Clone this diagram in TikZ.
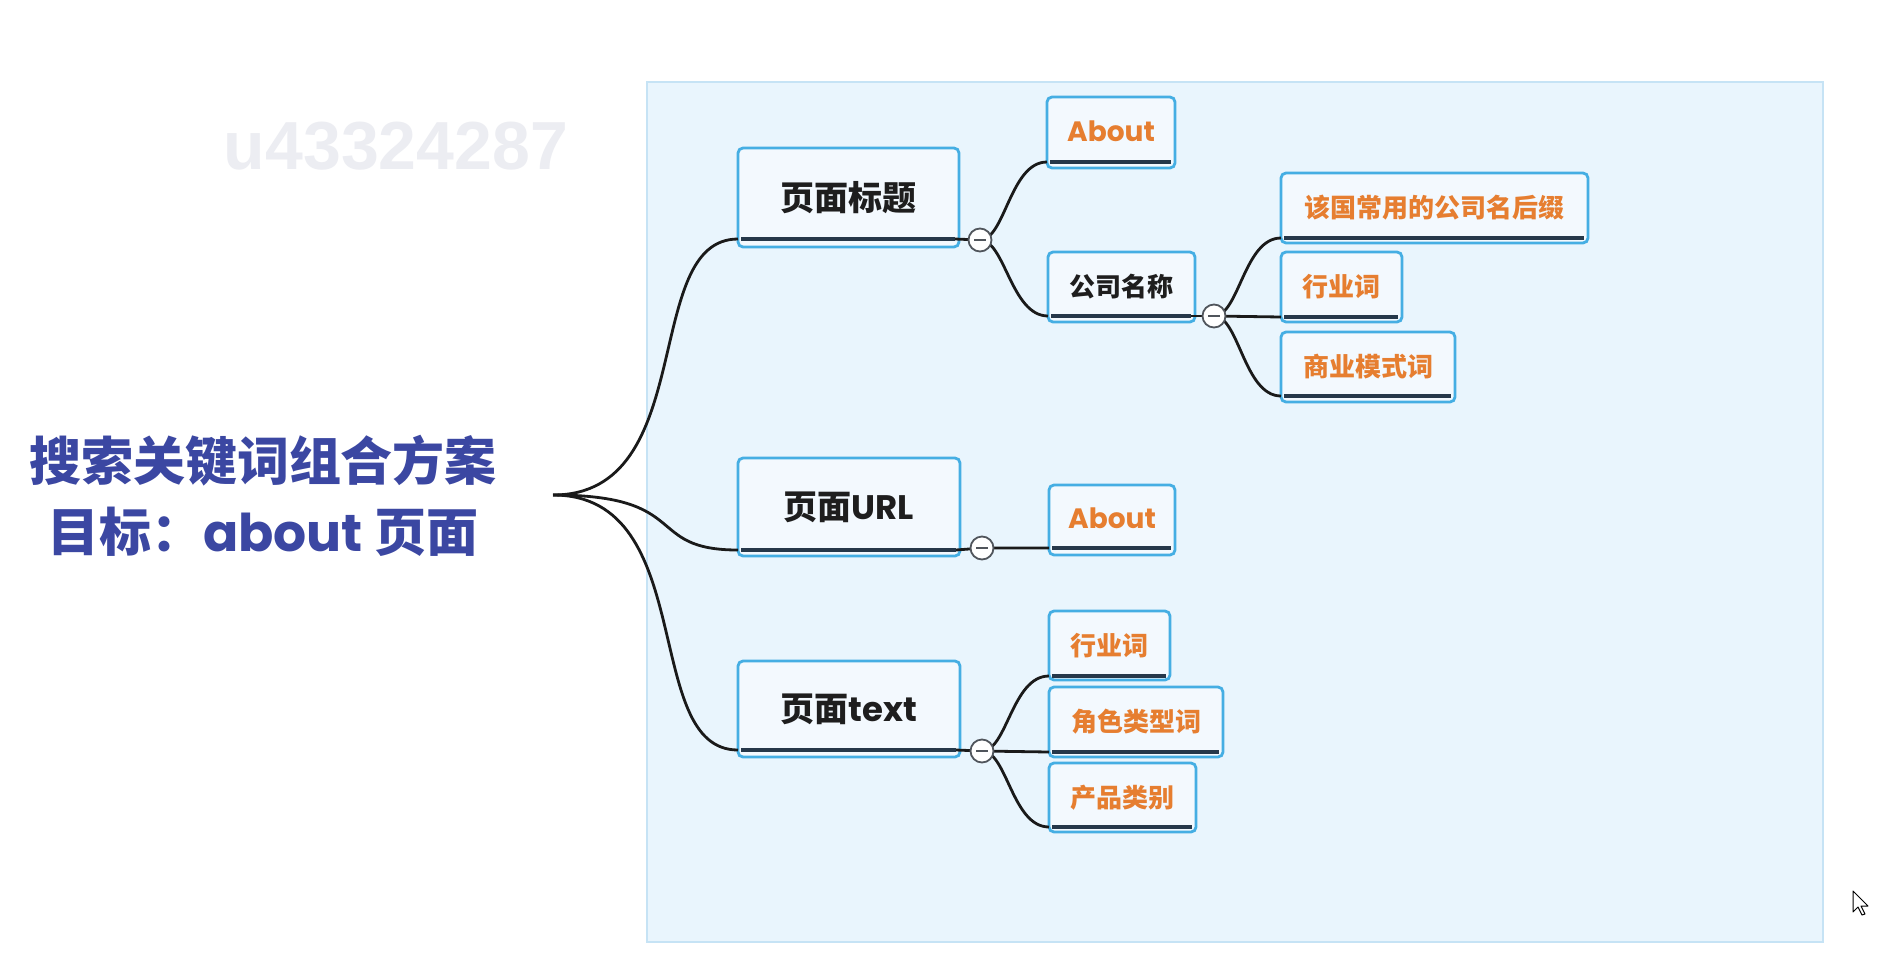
\documentclass[tikz,border=0pt]{standalone}
\usepackage{fontspec}
\setmainfont{Noto Sans CJK SC}
\newfontfamily\lat{Poppins}
\newfontfamily\wmfont{Liberation Sans}
\definecolor{panelfill}{HTML}{E9F5FD}
\definecolor{panelline}{HTML}{C6E3F5}
\definecolor{boxblue}{HTML}{45AEE3}
\definecolor{boxfill}{HTML}{F3F9FE}
\definecolor{ulinecol}{HTML}{26384A}
\definecolor{orangetext}{HTML}{E67E30}
\definecolor{darktext}{HTML}{1E1E1E}
\definecolor{rootblue}{HTML}{3B47A2}
\definecolor{conncol}{HTML}{1A1A1A}
\definecolor{knobcol}{HTML}{50555C}
\definecolor{wmgray}{HTML}{ECEDF2}
\tikzset{
  mmbox/.style={draw=boxblue, line width=2.8pt, rounded corners=5pt, fill=boxfill, inner sep=0pt, text=darktext},
  l1box/.style={mmbox, font=\fontsize{34}{40}\selectfont\bfseries},
  l2dark/.style={mmbox, font=\fontsize{26}{30}\selectfont\bfseries},
  leafbox/.style={mmbox, text=orangetext, font=\fontsize{26}{30}\selectfont\bfseries},
  uline/.style={draw=ulinecol, line width=3.8pt},
  conn/.style={draw=conncol, line width=2.8pt},
  knob/.style={circle, draw=knobcol, line width=1.8pt, fill=white, minimum size=23pt, inner sep=0pt,
    path picture={\draw[knobcol, line width=2pt] ([xshift=-6pt]path picture bounding box.center) -- ([xshift=6pt]path picture bounding box.center);}},
}
% #1 name, #2 style, #3 x1, #4 y1, #5 x2, #6 y2, #7 underline y, #8 text
\newcommand\mmnode[8]{%
  \node[#2, minimum width={(#5-#3)*1pt}, minimum height={(#6-#4)*1pt}] (#1) at ({(#3+#5)/2},{(#4+#6)/2}) {\raisebox{3pt}{#8}};
  \draw[uline] (#3+3,#7) -- (#5-4,#7);
  \coordinate (#1-l) at (#3,#7);
  \coordinate (#1-r) at (#5-4,#7);
}
\begin{document}
\begin{tikzpicture}[x=1pt,y=-1pt]
\useasboundingbox (0,0) rectangle (1882,970);
\fill[white] (0,0) rectangle (1882,970);
% watermark
\node[text=wmgray, font=\wmfont\fontsize{68}{70}\selectfont\bfseries, inner sep=0pt] (wm) at (396,146) {u43324287};
% panel
\draw[fill=panelfill, draw=panelline, line width=2pt] (647,82) rectangle (1823,942);
% root
\node[text=rootblue, align=center, inner sep=0pt, font=\fontsize{52}{71}\selectfont\bfseries] (root) at (263,496) {搜索关键词组合方案\\目标：{\lat about} 页面};
\coordinate (root-r) at (553,495);
% level 1
\mmnode{t1}{l1box}{738}{148}{959}{247}{239}{页面标题}
\mmnode{t2}{l1box}{738}{458}{960}{556}{550}{页面{\lat URL}}
\mmnode{t3}{l1box}{738}{661}{960}{757}{750}{页面{\lat text}}
% level 2 / 3
\mmnode{a1}{leafbox}{1047}{97}{1175}{168}{162}{{\lat\fontsize{28}{30}\selectfont About}}
\mmnode{c1}{l2dark}{1048}{252}{1195}{322}{316}{公司名称}
\mmnode{s1}{leafbox}{1281}{173}{1588}{243}{238}{该国常用的公司名后缀}
\mmnode{s2}{leafbox}{1281}{252}{1402}{322}{317}{行业词}
\mmnode{s3}{leafbox}{1281}{332}{1455}{402}{396}{商业模式词}
\mmnode{a2}{leafbox}{1049}{485}{1175}{555}{548}{{\lat\fontsize{28}{30}\selectfont About}}
\mmnode{p1}{leafbox}{1049}{611}{1170}{680}{676}{行业词}
\mmnode{p2}{leafbox}{1049}{687}{1223}{757}{752}{角色类型词}
\mmnode{p3}{leafbox}{1049}{763}{1196}{832}{827}{产品类别}
% root connectors
\draw[conn] (root-r) .. controls +(147,0) and +(-98,0) .. (t1-l);
\draw[conn] (root-r) .. controls +(140,0) and +(-95,0) .. (t2-l);
\draw[conn] (root-r) .. controls +(147,0) and +(-98,0) .. (t3-l);
% knob positions
\coordinate (k1c) at (980,240);
\coordinate (k2c) at (1214,316);
\coordinate (k3c) at (982,548);
\coordinate (k4c) at (982,751);
% sub connectors
\draw[conn] (t1-r) -- (k1c);
\draw[conn] (k1c) .. controls +(25,0) and +(-37,0) .. (a1-l);
\draw[conn] (k1c) .. controls +(25,0) and +(-37,0) .. (c1-l);
\draw[conn] (c1-r) -- (k2c);
\draw[conn] (k2c) .. controls +(25,0) and +(-37,0) .. (s1-l);
\draw[conn] (k2c) -- (s2-l);
\draw[conn] (k2c) .. controls +(25,0) and +(-37,0) .. (s3-l);
\draw[conn] (t2-r) -- (k3c) -- (a2-l);
\draw[conn] (t3-r) -- (k4c);
\draw[conn] (k4c) .. controls +(25,0) and +(-37,0) .. (p1-l);
\draw[conn] (k4c) -- (p2-l);
\draw[conn] (k4c) .. controls +(25,0) and +(-37,0) .. (p3-l);
% knobs
\node[knob] (k1) at (k1c) {};
\node[knob] (k2) at (k2c) {};
\node[knob] (k3) at (k3c) {};
\node[knob] (k4) at (k4c) {};
% mouse cursor
\draw[fill=white, draw=black, line width=1pt, line join=round]
  (1853,891) -- (1853,912) -- (1858,907) -- (1862,915) -- (1865,914) -- (1861,906) -- (1868,906) -- cycle;
\end{tikzpicture}
\end{document}
